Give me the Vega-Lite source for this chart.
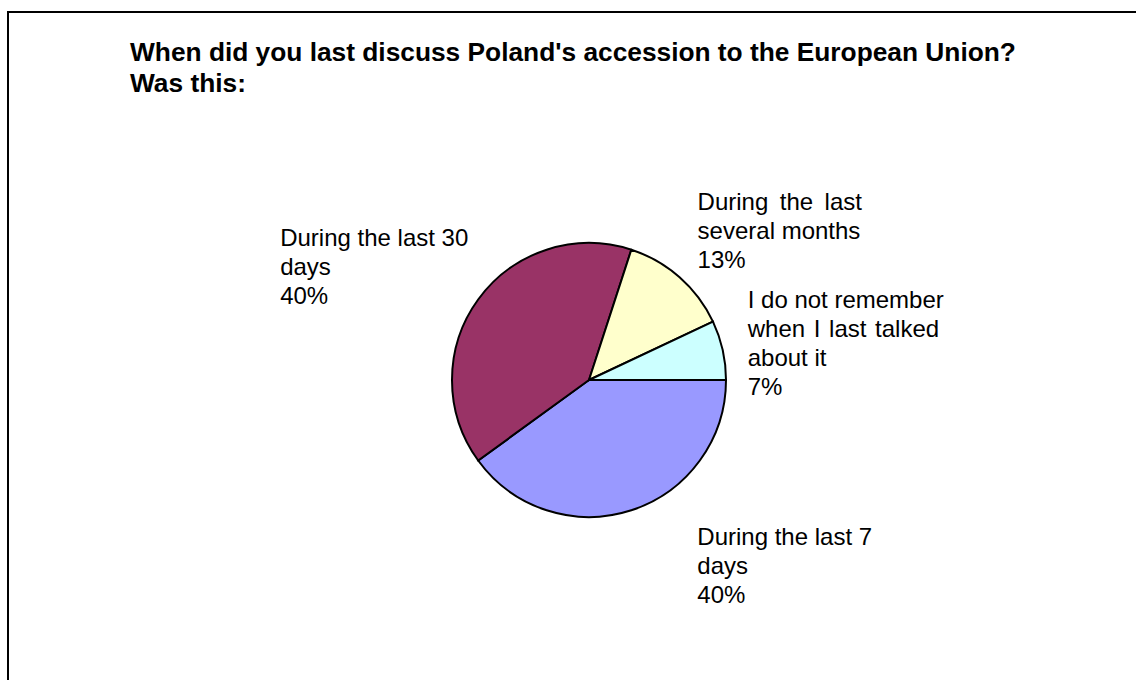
{
  "$schema": "https://vega.github.io/schema/vega-lite/v6.json",
  "width": 1162,
  "height": 736,
  "autosize": {"type": "none"},
  "padding": {"left": 8, "top": 12, "right": 0, "bottom": 0},
  "background": "white",
  "view": {"stroke": "black", "strokeWidth": 2, "fill": "white"},
  "config": {"view": {"stroke": "black", "strokeWidth": 2}, "font": "Liberation Sans"},
  "title": {
    "text": ["When did you last discuss Poland's accession to the European Union?", "Was this:"],
    "anchor": "start",
    "frame": "group",
    "orient": "top",
    "font": "Liberation Sans",
    "fontSize": 26.3,
    "fontWeight": "bold",
    "color": "black",
    "lineHeight": 31,
    "baseline": "alphabetic",
    "offset": 0,
    "dx": 122,
    "dy": 106
  },
  "data": {
    "values": [
      {"category": "During the last 7 days", "percent": 40, "order": 1, "label": "During the last 7\ndays\n40%"},
      {"category": "During the last 30 days", "percent": 40, "order": 2, "label": "During the last 30\ndays\n40%"},
      {"category": "During the last several months", "percent": 13, "order": 3, "label": "During\u2009 the\u2009 last\nseveral months\n13%"},
      {"category": "I do not remember when I last talked about it", "percent": 7, "order": 4, "label": "I do not remember\nwhen\u200a I\u200a last\u200a talked\nabout it\n7%"}
    ]
  },
  "encoding": {
    "theta": {"field": "percent", "type": "quantitative", "stack": true, "scale": {"range": [1.5707963, 7.8539816]}},
    "order": {"field": "order", "type": "quantitative"}
  },
  "layer": [
    {
      "mark": {"type": "arc", "outerRadius": 137, "stroke": "black", "strokeWidth": 2},
      "encoding": {
        "color": {
          "field": "category",
          "type": "nominal",
          "scale": {
            "domain": ["During the last 7 days", "During the last 30 days", "During the last several months", "I do not remember when I last talked about it"],
            "range": ["#9999FF", "#993366", "#FFFFCC", "#CCFFFF"]
          },
          "legend": null
        }
      }
    },
    {
      "mark": {"type": "text", "radius": 137, "align": "left", "baseline": "alphabetic", "fontSize": 24, "lineHeight": 29, "lineBreak": "\n", "color": "black", "dx": 66, "dy": 35},
      "encoding": {"text": {"condition": {"test": "datum.order == 1", "field": "label"}, "value": ""}}
    },
    {
      "mark": {"type": "text", "radius": 137, "align": "left", "baseline": "alphabetic", "fontSize": 24, "lineHeight": 29, "lineBreak": "\n", "color": "black", "dx": -198, "dy": -53},
      "encoding": {"text": {"condition": {"test": "datum.order == 2", "field": "label"}, "value": ""}}
    },
    {
      "mark": {"type": "text", "radius": 137, "align": "left", "baseline": "alphabetic", "fontSize": 24, "lineHeight": 29, "lineBreak": "\n", "color": "black", "dx": 18, "dy": -67},
      "encoding": {"text": {"condition": {"test": "datum.order == 3", "field": "label"}, "value": ""}}
    },
    {
      "mark": {"type": "text", "radius": 137, "align": "left", "baseline": "alphabetic", "fontSize": 24, "lineHeight": 29, "lineBreak": "\n", "color": "black", "dx": 25, "dy": -42},
      "encoding": {"text": {"condition": {"test": "datum.order == 4", "field": "label"}, "value": ""}}
    }
  ]
}
